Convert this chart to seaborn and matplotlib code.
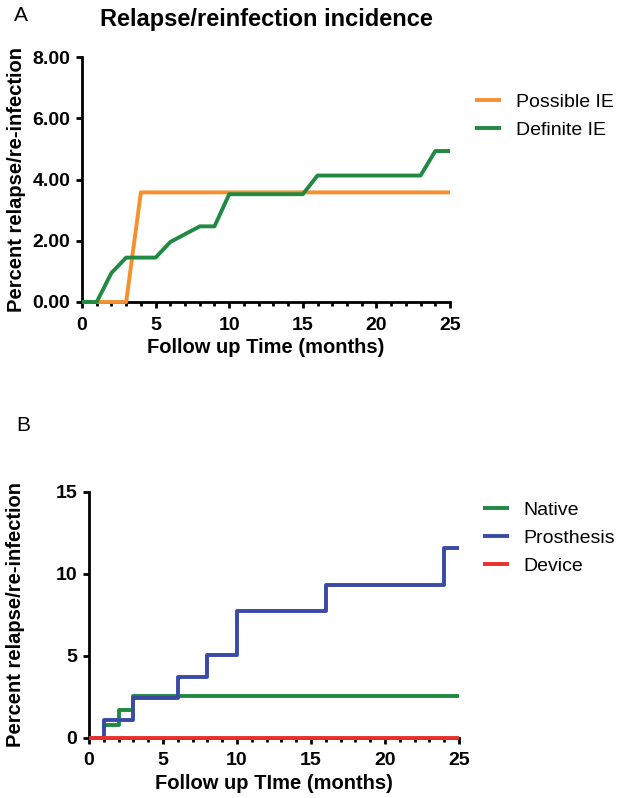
import numpy as np
import pandas as pd
import matplotlib
matplotlib.use("Agg")
import matplotlib.pyplot as plt
import seaborn as sns
from matplotlib.ticker import MultipleLocator

sns.set_theme(style="ticks")
plt.rcParams['font.family'] = ['Liberation Sans', 'DejaVu Sans']
plt.rcParams['text.color'] = 'black'
plt.rcParams['axes.labelcolor'] = 'black'
plt.rcParams['xtick.color'] = 'black'
plt.rcParams['ytick.color'] = 'black'
plt.rcParams['axes.edgecolor'] = 'black'

# Panel A data
months_possible = [0, 3, 4, 25]
possible_ie = [0, 0, 3.58, 3.58]
months_definite = [0, 1, 2, 3, 5, 6, 8, 9, 10, 15, 16, 23, 24, 25]
definite_ie = [0, 0, 0.95, 1.45, 1.45, 1.96, 2.47, 2.47, 3.52, 3.52, 4.13, 4.13, 4.93, 4.93]

# Panel B data (step functions)
months_native = [0, 1, 2, 3, 25]
native = [0, 0.8, 1.7, 2.55, 2.55]
months_prosthesis = [0, 1, 3, 6, 8, 10, 16, 24, 25]
prosthesis = [0, 1.1, 2.4, 3.7, 5.05, 7.75, 9.35, 11.6, 11.6]
months_device = [0, 25]
device = [0, 0]

c_orange = '#F5902F'
c_green = '#208A42'
c_blue = '#3A4AA6'
c_red = '#E8302C'

W, H = 618, 798
fig = plt.figure(figsize=(6.18, 7.98), dpi=100)
axA = fig.add_axes([82 / W, 1 - 302 / H, (450 - 82) / W, (302 - 57) / H])
axB = fig.add_axes([89 / W, 1 - 737.7 / H, (459 - 89) / W, (737.7 - 492) / H])

lw = 2.8
dfA1 = pd.DataFrame({'x': months_possible, 'y': possible_ie})
dfA2 = pd.DataFrame({'x': months_definite, 'y': definite_ie})
sns.lineplot(data=dfA1, x='x', y='y', ax=axA, color=c_orange, lw=lw, label='Possible IE', estimator=None)
sns.lineplot(data=dfA2, x='x', y='y', ax=axA, color=c_green, lw=lw, label='Definite IE', estimator=None)

dfB0 = pd.DataFrame({'x': months_native, 'y': native})
dfB1 = pd.DataFrame({'x': months_prosthesis, 'y': prosthesis})
dfB2 = pd.DataFrame({'x': months_device, 'y': device})
sns.lineplot(data=dfB0, x='x', y='y', ax=axB, color=c_green, lw=lw, label='Native', estimator=None, drawstyle='steps-post')
sns.lineplot(data=dfB1, x='x', y='y', ax=axB, color=c_blue, lw=lw, label='Prosthesis', estimator=None, drawstyle='steps-post')
sns.lineplot(data=dfB2, x='x', y='y', ax=axB, color=c_red, lw=lw, label='Device', estimator=None, drawstyle='steps-post')

tick_fs = 14
lab_fs = 14.5
for ax in (axA, axB):
    sns.despine(ax=ax)
    ax.spines['left'].set_linewidth(2.0)
    ax.spines['bottom'].set_linewidth(2.0)
    ax.spines['left'].set_color('black')
    ax.spines['bottom'].set_color('black')
    ax.set_xlim(0, 25)
    ax.xaxis.set_major_locator(MultipleLocator(5))
    ax.xaxis.set_minor_locator(MultipleLocator(1))
    ax.tick_params(axis='both', which='major', length=4, width=2.0, direction='out', labelsize=tick_fs,
                   colors='black')
    ax.tick_params(axis='x', which='major', pad=6.5)
    ax.tick_params(axis='y', which='major', pad=4.5)
    ax.tick_params(axis='x', which='minor', length=3, width=2.0, direction='out', colors='black')
    ax.set_facecolor('white')

axA.set_ylim(0, 8)
axA.set_yticks([0, 2, 4, 6, 8])
axA.set_yticklabels(['0.00', '2.00', '4.00', '6.00', '8.00'])
axB.set_ylim(0, 15)
axB.set_yticks([0, 5, 10, 15])
axB.set_yticklabels(['0', '5', '10', '15'])
for ax in (axA, axB):
    ax.set_xticks([0, 5, 10, 15, 20, 25])
    ax.set_xticklabels(['0', '5', '10', '15', '20', '25'])
    for lab in ax.get_xticklabels() + ax.get_yticklabels():
        lab.set_fontweight('bold')
        lab.set_color('black')
    for line in ax.lines:
        line.set_clip_on(False)
        line.set_solid_capstyle('butt')
        line.set_zorder(3)

axA.set_xlabel('Follow up Time (months)', fontsize=lab_fs, fontweight='bold', labelpad=3.5, color='black')
axA.set_ylabel('Percent relapse/re-infection', fontsize=lab_fs, fontweight='bold', color='black')
axB.set_xlabel('Follow up TIme (months)', fontsize=lab_fs, fontweight='bold', labelpad=3.5, color='black')
axB.set_ylabel('Percent relapse/re-infection', fontsize=lab_fs, fontweight='bold', color='black')
axA.yaxis.set_label_coords((26 - 82) / 368, 0.5)
axB.yaxis.set_label_coords((25 - 89) / 370, 0.5)

axA.set_title('Relapse/reinfection incidence', fontsize=17, fontweight='bold', pad=22, color='black')

leg_kw = dict(loc='upper left', frameon=False, fontsize=14, handlelength=1.35, handletextpad=0.75,
              labelspacing=0.55, borderpad=0, borderaxespad=0, bbox_transform=fig.transFigure)
legA = axA.legend(bbox_to_anchor=(475 / W, 1 - 93 / H), **leg_kw)
legB = axB.legend(bbox_to_anchor=(483 / W, 1 - 501 / H), **leg_kw)
for leg in (legA, legB):
    for t in leg.get_texts():
        t.set_color('black')

fig.text(14 / W, 1 - 6 / H, 'A', fontsize=15, va='top', color='black')
fig.text(16 / W, 1 - 416 / H, 'B', fontsize=15, va='top', color='black')

fig.savefig('out.png', dpi=100, facecolor='white')
